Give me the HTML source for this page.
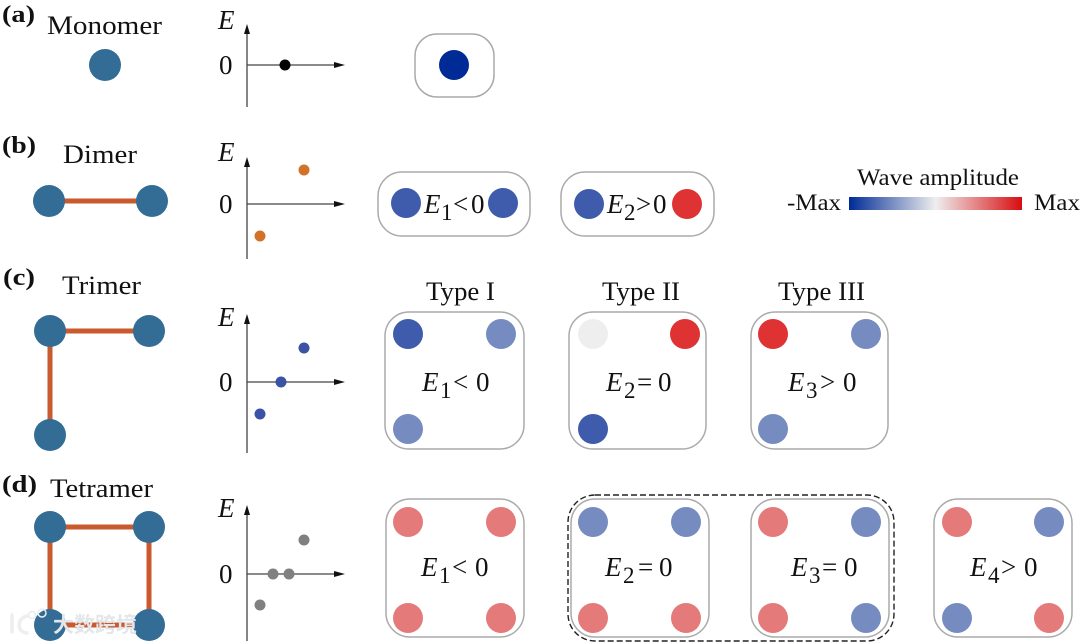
<!DOCTYPE html>
<html><head><meta charset="utf-8"><style>
html,body{margin:0;padding:0;background:#fff}
svg{display:block}
text{font-family:"Liberation Serif",serif;fill:#111}
.l{font-weight:bold;font-size:24px}
.t{font-size:26px}
.e{font-size:27px}
.i{font-style:italic}
.s{font-size:23px}
.w{font-size:23px}
.box{fill:#fff;stroke:#aaa;stroke-width:1.5}
.ax{stroke:#444;stroke-width:1.3;fill:none}
.bond{stroke:#c85a2e;stroke-width:5;fill:none}
</style></head><body>
<svg width="1080" height="643" viewBox="0 0 1080 643" xmlns="http://www.w3.org/2000/svg">
<defs><linearGradient id="g"><stop offset="0" stop-color="#002b96"/><stop offset=".5" stop-color="#eeeeee"/><stop offset="1" stop-color="#d80d10"/></linearGradient></defs>
<rect width="1080" height="643" fill="#fff"/>

<text class="l" x="2" y="22" textLength="33" lengthAdjust="spacingAndGlyphs">(a)</text>
<text class="l" x="2" y="153" textLength="34" lengthAdjust="spacingAndGlyphs">(b)</text>
<text class="l" x="3" y="285" textLength="32" lengthAdjust="spacingAndGlyphs">(c)</text>
<text class="l" x="2" y="492" textLength="35" lengthAdjust="spacingAndGlyphs">(d)</text>
<text class="t" x="47" y="34" textLength="115" lengthAdjust="spacingAndGlyphs">Monomer</text>
<text class="t" x="63" y="163" textLength="74" lengthAdjust="spacingAndGlyphs">Dimer</text>
<text class="t" x="62" y="294" textLength="79" lengthAdjust="spacingAndGlyphs">Trimer</text>
<text class="t" x="50" y="497" textLength="103" lengthAdjust="spacingAndGlyphs">Tetramer</text>

<circle cx="105" cy="65" r="16" fill="#336d96"/>
<path class="bond" d="M49 201H152"/><circle cx="49" cy="201" r="16" fill="#336d96"/><circle cx="152" cy="201" r="16" fill="#336d96"/>
<path class="bond" d="M50 331H149M50 331V435"/><circle cx="50" cy="331" r="16" fill="#336d96"/><circle cx="149" cy="331" r="16" fill="#336d96"/><circle cx="50" cy="435" r="16" fill="#336d96"/>
<path class="bond" d="M50 527H149V625H50Z"/><circle cx="50" cy="527" r="16" fill="#336d96"/><circle cx="149" cy="527" r="16" fill="#336d96"/><circle cx="50" cy="625" r="16" fill="#336d96"/><circle cx="149" cy="625" r="16" fill="#336d96"/>

<!-- axes -->
<path class="ax" d="M247 107V28M247 65H335"/><path d="M247 24l-3 10h6zM345 65l-11-3v6z" fill="#111"/>
<path class="ax" d="M247 259V161M247 204H335"/><path d="M247 157l-3 10h6zM345 204l-11-3v6z" fill="#111"/>
<path class="ax" d="M247 453V320M247 382H335"/><path d="M247 314l-3 10h6zM345 382l-11-3v6z" fill="#111"/>
<path class="ax" d="M247 641V512M247 574H335"/><path d="M247 505l-3 10h6zM345 574l-11-3v6z" fill="#111"/>

<text class="e i" x="218" y="29">E</text><text class="e" x="219" y="74">0</text>
<text class="e i" x="218" y="161">E</text><text class="e" x="219" y="213">0</text>
<text class="e i" x="218" y="326">E</text><text class="e" x="219" y="391">0</text>
<text class="e i" x="218" y="517">E</text><text class="e" x="219" y="583">0</text>

<circle cx="285" cy="65" r="5.5" fill="#000"/>
<circle cx="304" cy="170" r="5.5" fill="#d2722a"/><circle cx="260" cy="236" r="5.5" fill="#d2722a"/>
<circle cx="304" cy="348" r="5.5" fill="#3a53a6"/><circle cx="281" cy="382" r="5.5" fill="#3a53a6"/><circle cx="260" cy="414" r="5.5" fill="#3a53a6"/>
<circle cx="304" cy="540" r="5.5" fill="#808080"/><circle cx="273" cy="574" r="5.5" fill="#808080"/><circle cx="289" cy="574" r="5.5" fill="#808080"/><circle cx="260" cy="605" r="5.5" fill="#808080"/>

<!-- a/b boxes -->
<rect class="box" x="415" y="34" width="79" height="63" rx="22"/>
<circle cx="454" cy="65" r="15" fill="#002b96"/>
<rect class="box" x="378" y="172" width="152" height="64" rx="24"/>
<circle cx="406" cy="203" r="15" fill="#3e5cab"/><circle cx="503" cy="203" r="15" fill="#3e5cab"/>
<text class="e i" x="424" y="213">E</text><text class="s" x="441" y="220">1</text><text class="e" x="453" y="213">&lt;</text><text class="e" x="471" y="213">0</text>
<rect class="box" x="561" y="172" width="153" height="64" rx="24"/>
<circle cx="589" cy="204" r="15" fill="#3e5cab"/><circle cx="687" cy="204" r="15" fill="#df3232"/>
<text class="e i" x="607" y="213">E</text><text class="s" x="624" y="220">2</text><text class="e" x="636" y="213">&gt;</text><text class="e" x="653" y="213">0</text>

<!-- colorbar -->
<text class="w" x="857" y="185" textLength="162" lengthAdjust="spacingAndGlyphs">Wave amplitude</text>
<text class="w" x="787" y="210" textLength="54" lengthAdjust="spacingAndGlyphs">-Max</text>
<text class="w" x="1034" y="210" textLength="46" lengthAdjust="spacingAndGlyphs">Max</text>
<rect x="849" y="197" width="173" height="13" fill="url(#g)"/>

<!-- c -->
<text class="t" x="426" y="300" textLength="69" lengthAdjust="spacingAndGlyphs">Type I</text>
<text class="t" x="602" y="300" textLength="78" lengthAdjust="spacingAndGlyphs">Type II</text>
<text class="t" x="778" y="300" textLength="87" lengthAdjust="spacingAndGlyphs">Type III</text>

<rect class="box" x="385" y="312" width="139" height="137" rx="24"/>
<circle cx="408" cy="334" r="15" fill="#3e5cab"/><circle cx="501" cy="334" r="15" fill="#768cc1"/><circle cx="408" cy="429" r="15" fill="#768cc1"/>
<text class="e i" x="422" y="391">E</text><text class="s" x="440" y="398">1</text><text class="e" x="453" y="391">&lt;</text><text class="e" x="476" y="391">0</text>

<rect class="box" x="569" y="312" width="137" height="137" rx="24"/>
<circle cx="593" cy="334" r="15" fill="#eeeeee"/><circle cx="685" cy="334" r="15" fill="#df3232"/><circle cx="593" cy="429" r="15" fill="#3e5cab"/>
<text class="e i" x="606" y="391">E</text><text class="s" x="624" y="398">2</text><text class="e" x="637" y="391">=</text><text class="e" x="658" y="391">0</text>

<rect class="box" x="751" y="312" width="137" height="137" rx="24"/>
<circle cx="773" cy="334" r="15" fill="#df3232"/><circle cx="866" cy="334" r="15" fill="#768cc1"/><circle cx="773" cy="429" r="15" fill="#768cc1"/>
<text class="e i" x="788" y="391">E</text><text class="s" x="806" y="398">3</text><text class="e" x="820" y="391">&gt;</text><text class="e" x="843" y="391">0</text>

<!-- d -->
<rect class="box" x="386" y="499" width="138" height="138" rx="24"/>
<circle cx="408" cy="522" r="15" fill="#e57a7a"/><circle cx="501" cy="522" r="15" fill="#e57a7a"/><circle cx="408" cy="618" r="15" fill="#e57a7a"/><circle cx="501" cy="618" r="15" fill="#e57a7a"/>
<text class="e i" x="421" y="576">E</text><text class="s" x="439" y="583">1</text><text class="e" x="452" y="576">&lt;</text><text class="e" x="475" y="576">0</text>

<rect x="568" y="495" width="326" height="146" rx="27" fill="#fff" stroke="#222" stroke-width="1.4" stroke-dasharray="6 3"/>
<rect class="box" x="571" y="499" width="138" height="138" rx="24"/>
<circle cx="593" cy="522" r="15" fill="#768cc1"/><circle cx="686" cy="522" r="15" fill="#768cc1"/><circle cx="593" cy="618" r="15" fill="#e57a7a"/><circle cx="686" cy="618" r="15" fill="#e57a7a"/>
<text class="e i" x="605" y="576">E</text><text class="s" x="623" y="583">2</text><text class="e" x="638" y="576">=</text><text class="e" x="659" y="576">0</text>
<rect class="box" x="751" y="499" width="138" height="138" rx="24"/>
<circle cx="773" cy="522" r="15" fill="#e57a7a"/><circle cx="866" cy="522" r="15" fill="#768cc1"/><circle cx="773" cy="618" r="15" fill="#e57a7a"/><circle cx="866" cy="618" r="15" fill="#768cc1"/>
<text class="e i" x="791" y="576">E</text><text class="s" x="809" y="583">3</text><text class="e" x="822" y="576">=</text><text class="e" x="844" y="576">0</text>

<rect class="box" x="934" y="499" width="138" height="138" rx="24"/>
<circle cx="957" cy="522" r="15" fill="#e57a7a"/><circle cx="1049" cy="522" r="15" fill="#768cc1"/><circle cx="957" cy="618" r="15" fill="#768cc1"/><circle cx="1049" cy="618" r="15" fill="#e57a7a"/>
<text class="e i" x="970" y="576">E</text><text class="s" x="988" y="583">4</text><text class="e" x="1001" y="576">&gt;</text><text class="e" x="1024" y="576">0</text>

<!-- watermark -->
<g fill="none" stroke="#eceef0" stroke-linecap="round">
<path d="M12 615V632" stroke-width="3.5"/>
<path d="M28 616C18 616 15 632 27 633" stroke-width="3.5"/>
<circle cx="32" cy="615" r="3.5" stroke-width="1.8"/>
<circle cx="42" cy="613" r="4" stroke-width="1.5"/>
</g>
<text x="53" y="632" font-size="21" font-weight="bold" style="fill:#e4e7ea;font-family:'Noto Sans CJK SC',sans-serif">大数跨境</text>
</svg>
</body></html>
